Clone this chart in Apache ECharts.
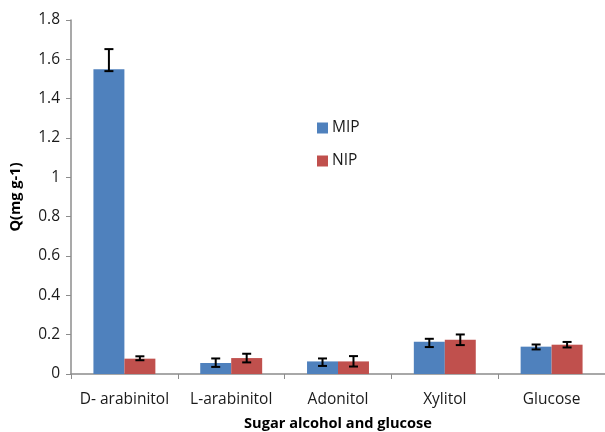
<!DOCTYPE html>
<html>
<head>
<meta charset="utf-8">
<script src="https://cdn.jsdelivr.net/npm/echarts@6/dist/echarts.min.js"></script>
<style>
  html, body { margin: 0; padding: 0; background: #fff; }
  #chart { width: 605px; height: 432px; }
</style>
</head>
<body>
<div id="chart"></div>
<script>
// Adsorption capacity per compound
const categories = ['D- arabinitol', 'L-arabinitol', 'Adonitol', 'Xylitol', 'Glucose'];
const mipValues = [1.55, 0.056, 0.064, 0.164, 0.139];
const nipValues = [0.078, 0.081, 0.064, 0.174, 0.149];
// Error bar limits [low, high]
const mipErrors = [[1.54, 1.652], [0.036, 0.079], [0.041, 0.079], [0.137, 0.179], [0.125, 0.150]];
const nipErrors = [[0.070, 0.090], [0.059, 0.103], [0.038, 0.091], [0.147, 0.201], [0.135, 0.163]];
const yTicks = [0, 0.2, 0.4, 0.6, 0.8, 1, 1.2, 1.4, 1.6, 1.8];

const BAR_CAT_GAP = 0.42;
const font = 'Open Sans, Liberation Sans, sans-serif';
const textColor = '#1a1a1a';

function errorSeries(limits, side) {
  return {
    type: 'custom',
    z: 10,
    data: limits.map((l, i) => [i, l[0], l[1]]),
    renderItem: function (params, api) {
      const band = api.size([1, 0])[0];
      const barW = band * (1 - BAR_CAT_GAP) / 2;
      const lo = api.coord([api.value(0), api.value(1)]);
      const hi = api.coord([api.value(0), api.value(2)]);
      const x = lo[0] + side * barW / 2;
      const cap = 4.5;
      const style = { stroke: '#000', lineWidth: 2 };
      return {
        type: 'group',
        children: [
          { type: 'line', shape: { x1: x, y1: lo[1], x2: x, y2: hi[1] }, style: style },
          { type: 'line', shape: { x1: x - cap, y1: lo[1], x2: x + cap, y2: lo[1] }, style: style },
          { type: 'line', shape: { x1: x - cap, y1: hi[1], x2: x + cap, y2: hi[1] }, style: style }
        ]
      };
    }
  };
}

const chart = echarts.init(document.getElementById('chart'));
chart.setOption({
  animation: false,
  backgroundColor: '#fff',
  textStyle: { fontFamily: font },
  grid: { left: 71, right: 0, top: 20, bottom: 58, containLabel: false, outerBoundsMode: 'none' },
  legend: {
    orient: 'vertical',
    left: 312,
    top: 115,
    itemWidth: 11,
    itemHeight: 11,
    itemGap: 17,
    icon: 'rect',
    textStyle: { fontSize: 15.5, color: textColor, fontFamily: font, padding: [0, 0, 0, -1] },
    data: ['MIP', 'NIP']
  },
  xAxis: {
    type: 'category',
    data: categories,
    name: 'Sugar alcohol and glucose',
    nameLocation: 'middle',
    nameGap: 42,
    nameTextStyle: { fontSize: 14.6, fontWeight: 'bold', color: '#000', fontFamily: font },
    axisLine: { lineStyle: { color: '#8c8c8c', width: 1.5 } },
    axisTick: { show: true, alignWithLabel: false, length: 5, lineStyle: { color: '#8c8c8c' } },
    axisLabel: { interval: 0, hideOverlap: false, fontSize: 15.5, color: textColor, margin: 18, fontFamily: font }
  },
  yAxis: {
    type: 'value',
    min: 0,
    max: 1.8,
    interval: 0.2,
    name: 'Q(mg g-1)',
    nameLocation: 'middle',
    nameGap: 48,
    nameTextStyle: { fontSize: 14.6, fontWeight: 'bold', color: '#000', fontFamily: font },
    axisLine: { show: true, lineStyle: { color: '#8c8c8c', width: 1.5 } },
    axisTick: { show: true, length: 5, lineStyle: { color: '#8c8c8c' } },
    splitLine: { show: false },
    axisLabel: {
      fontSize: 15.5, color: textColor, margin: 11, fontFamily: font,
      formatter: function (v) {
        const t = yTicks.find(k => Math.abs(k - v) < 1e-9);
        return t === undefined ? '' : String(t);
      }
    }
  },
  series: [
    {
      name: 'MIP', type: 'bar', data: mipValues,
      barGap: 0, barCategoryGap: (BAR_CAT_GAP * 100) + '%',
      itemStyle: { color: '#4F81BD' }
    },
    {
      name: 'NIP', type: 'bar', data: nipValues,
      barGap: 0, barCategoryGap: (BAR_CAT_GAP * 100) + '%',
      itemStyle: { color: '#C0504D' }
    },
    errorSeries(mipErrors, -1),
    errorSeries(nipErrors, 1)
  ]
});
</script>
</body>
</html>
